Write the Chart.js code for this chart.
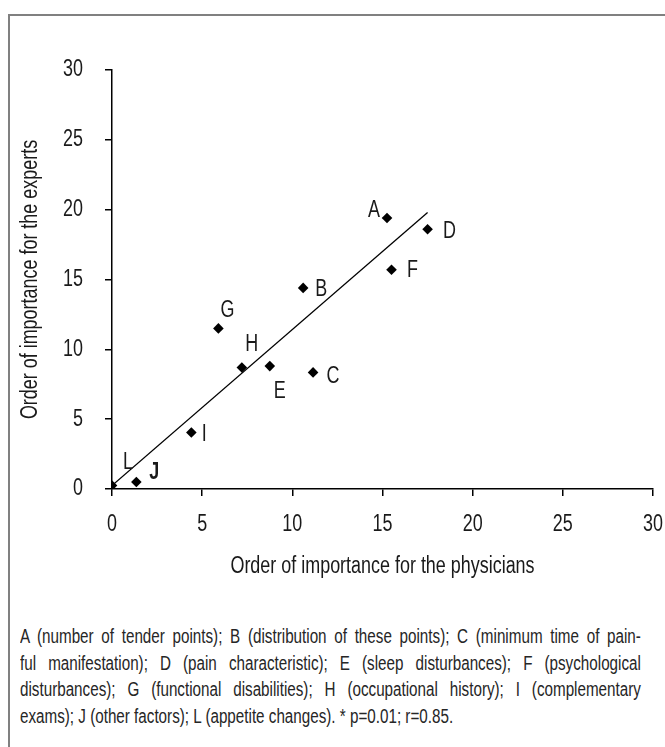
<!DOCTYPE html>
<html>
<head>
<meta charset="utf-8">
<script src="https://cdn.jsdelivr.net/npm/chart.js@4.4.1/dist/chart.umd.min.js"></script>
<style>
  html, body { margin: 0; padding: 0; background: #fff; }
  body { width: 665px; height: 747px; position: relative; overflow: hidden;
         font-family: "Liberation Sans", Arial, sans-serif; }
  #frame { position: absolute; left: 8px; top: 14px; width: 700px; height: 760px;
           border-left: 2px solid #808080; border-top: 2px solid #808080; }
  #wrap { position: absolute; left: 0; top: 0; width: 665px; height: 600px; }
  #note { position: absolute; left: 20px; top: 623px; width: 621px; color: #262626; }
  #note div { width: 796px; transform: scaleX(0.78); transform-origin: 0 0;
              font-size: 19.5px; line-height: 26.5px;
              text-align: justify; text-align-last: justify; }
  #note div.last { text-align-last: left; }
</style>
</head>
<body>
<div id="frame"></div>
<div id="wrap"><canvas id="chart"></canvas></div>
<div id="note">
  <div>A (number of tender points); B (distribution of these points); C (minimum time of pain-</div>
  <div>ful manifestation); D (pain characteristic); E (sleep disturbances); F (psychological</div>
  <div>disturbances); G (functional disabilities); H (occupational history); I (complementary</div>
  <div class="last">exams); J (other factors); L (appetite changes). * p=0.01; r=0.85.</div>
</div>
<script>
const letters = ['L', 'J', 'I', 'G', 'H', 'E', 'C', 'B', 'A', 'D', 'F'];
const physicians = [0, 1.35, 4.4, 5.9, 7.2, 8.75, 11.15, 10.6, 15.25, 17.5, 15.5];
const experts = [0.25, 0.5, 4.05, 11.5, 8.7, 8.8, 8.35, 14.4, 19.4, 18.6, 15.7];
const trendX = [0, 17.5];
const trendY = [0.25, 19.8];
const axisTicks = [0, 5, 10, 15, 20, 25, 30];

const FONT = '"Liberation Sans", Arial, sans-serif';
Chart.defaults.font.family = FONT;
Chart.defaults.color = '#1a1a1a';

// no condensed face is installed, so squeeze canvas text sideways
const SQUEEZE = 0.78;
const canvas = document.getElementById('chart');
const c2d = canvas.getContext('2d');
const rawFill = c2d.fillText.bind(c2d);
const rawMeasure = c2d.measureText.bind(c2d);
c2d.fillText = function (text, x, y) {
  this.save();
  this.translate(x, y);
  this.scale(SQUEEZE, 1);
  rawFill(text, 0, 0);
  this.restore();
};
c2d.measureText = function (text) {
  const m = rawMeasure(text);
  return {
    width: m.width * SQUEEZE,
    actualBoundingBoxAscent: m.actualBoundingBoxAscent,
    actualBoundingBoxDescent: m.actualBoundingBoxDescent
  };
};

// where each letter sits relative to its point (px)
const labelShift = {
  L: [16, -23], J: [18, -9], I: [13, 2], G: [9, -18], H: [10, -23], E: [10, 26],
  C: [20, 4], B: [18, 2], A: [-13, -7], D: [22, 2], F: [21, 1]
};

const pointLabels = {
  id: 'pointLabels',
  afterDatasetsDraw(chart) {
    const ctx = chart.ctx;
    const meta = chart.getDatasetMeta(0);
    ctx.save();
    ctx.fillStyle = '#1a1a1a';
    ctx.textAlign = 'center';
    ctx.textBaseline = 'middle';
    meta.data.forEach((pt, i) => {
      const k = letters[i];
      const s = labelShift[k];
      ctx.font = (k === 'J' ? 'bold ' : '') + '23px ' + FONT;
      ctx.fillText(k, pt.x + s[0], pt.y + s[1]);
    });
    ctx.restore();
  }
};

const axis = (title, pad, fit) => ({
  type: 'linear',
  min: 0,
  max: 30,
  afterBuildTicks: s => { s.ticks = axisTicks.map(v => ({ value: v })); },
  afterFit: fit,
  border: { display: true, color: '#000', width: 1.5 },
  grid: { drawOnChartArea: false, color: '#000', lineWidth: 1.5, tickLength: 7 },
  ticks: { font: { size: 23 }, padding: pad, color: '#1a1a1a' },
  title: { display: true, text: title, font: { size: 23 }, color: '#1a1a1a' }
});

const xAxis = axis('Order of importance for the physicians', 15, s => {
  s.height = 111; s.paddingLeft = 0; s.paddingRight = 0;
});
xAxis.title.padding = { top: 0, bottom: 20 };
const yAxis = axis('Order of importance for the experts', 22, s => {
  s.width = 112; s.paddingTop = 0; s.paddingBottom = 0;
});
yAxis.title.padding = { top: 17, bottom: 0 };

new Chart(canvas, {
  type: 'scatter',
  data: {
    datasets: [{
      data: physicians.map((x, i) => ({ x: x, y: experts[i] })),
      pointStyle: 'rectRot',
      pointRadius: 5.3,
      backgroundColor: '#000',
      borderWidth: 0
    }, {
      data: trendX.map((x, i) => ({ x: x, y: trendY[i] })),
      showLine: true,
      pointRadius: 0,
      borderColor: '#000',
      borderWidth: 1.3
    }]
  },
  options: {
    responsive: true,
    maintainAspectRatio: false,
    animation: false,
    events: [],
    layout: { padding: { left: 0, top: 70, right: 12, bottom: 0 } },
    scales: { x: xAxis, y: yAxis },
    plugins: { legend: { display: false }, tooltip: { enabled: false } }
  },
  plugins: [pointLabels]
});
</script>
</body>
</html>
